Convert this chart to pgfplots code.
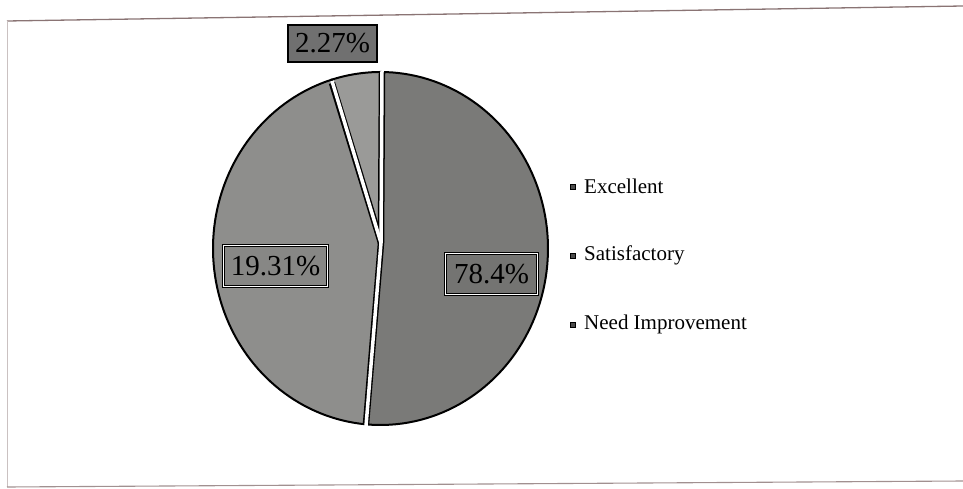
\documentclass[border=0pt]{standalone}
\usepackage{pgfplots}
\pgfplotsset{compat=1.18}
\usepackage{fontspec}
\setmainfont{Liberation Serif}
\definecolor{exc}{HTML}{7A7A78}
\definecolor{sat}{HTML}{8E8E8C}
\definecolor{nim}{HTML}{9A9A98}
\definecolor{frame}{HTML}{8A7474}
% slice shares (degrees, clockwise from 12 o'clock):
% Excellent 185, Satisfactory 158, Need Improvement 17
\def\cx{380.5}\def\cy{248.5}\def\rx{167.5}\def\ry{176.5}
\begin{document}
\begin{tikzpicture}
\begin{axis}[
  scale only axis, width=963pt, height=489pt,
  xmin=0, xmax=963, ymin=0, ymax=489, y dir=reverse,
  hide axis, clip=false,
]
% card frame lines
\addplot[frame, line width=1.3pt] coordinates {(7,21) (963,6)};
\addplot[frame!45, line width=0.8pt] coordinates {(7,21) (7,487)};
\addplot[frame!80, line width=1.1pt] coordinates {(7,487) (963,481)};
% pie slices
\addplot[fill=exc, draw=black, line width=2pt, domain=-90:95, samples=90]
  ({\cx+\rx*cos(x)},{\cy+\ry*sin(x)}) -- (axis cs:381,243) -- cycle;
\addplot[fill=sat, draw=black, line width=2pt, domain=95:253, samples=80]
  ({\cx+\rx*cos(x)},{\cy+\ry*sin(x)}) -- (axis cs:381,243) -- cycle;
\addplot[fill=nim, draw=black, line width=2pt, domain=253:270, samples=12]
  ({\cx+\rx*cos(x)},{\cy+\ry*sin(x)}) -- (axis cs:381,243) -- cycle;
% separators
\addplot[black, line width=6.5pt, line cap=butt] coordinates {(382,73) (381,243) (366,424)};
\addplot[black, line width=6.5pt, line cap=butt] coordinates {(332,83) (381,243)};
\addplot[white, line width=3.5pt, line cap=butt] coordinates {(382,71) (381,243) (366,426)};
\addplot[white, line width=3.5pt, line cap=butt] coordinates {(332,81) (381,243)};
% legend markers
\addplot[only marks, mark=square*, mark size=2.6pt, mark options={fill=black!70, draw=black}]
  coordinates {(573,187) (573,256) (573,325)};
% legend text
\node[anchor=west, font=\fontsize{21}{22}\selectfont, inner sep=0pt] at (axis cs:584,186) {Excellent};
\node[anchor=west, font=\fontsize{21}{22}\selectfont, inner sep=0pt] at (axis cs:584,255) {Satisfactory};
\node[anchor=west, font=\fontsize{21}{22}\selectfont, inner sep=0pt] at (axis cs:584,324) {Need Improvement};
% data labels
\node[draw=black, line width=1.8pt, fill=black!56, minimum width=89pt, minimum height=37pt,
      inner sep=0pt, font=\fontsize{29}{30}\selectfont] at (axis cs:332.5,43.5) {2.27\%};
\node[draw=black, double=white, line width=0.9pt, double distance=1.6pt, fill=sat!95!black,
      minimum width=104pt, minimum height=41pt, inner sep=0pt, font=\fontsize{29}{30}\selectfont]
      at (axis cs:275.5,266) {19.31\%};
\node[draw=black, double=white, line width=0.9pt, double distance=1.6pt, fill=exc!95!black,
      minimum width=92pt, minimum height=41pt, inner sep=0pt, font=\fontsize{29}{30}\selectfont]
      at (axis cs:491.5,274) {78.4\%};
\end{axis}
\pgfresetboundingbox
\path (current axis.south west) rectangle (current axis.north east);
\end{tikzpicture}
\end{document}
